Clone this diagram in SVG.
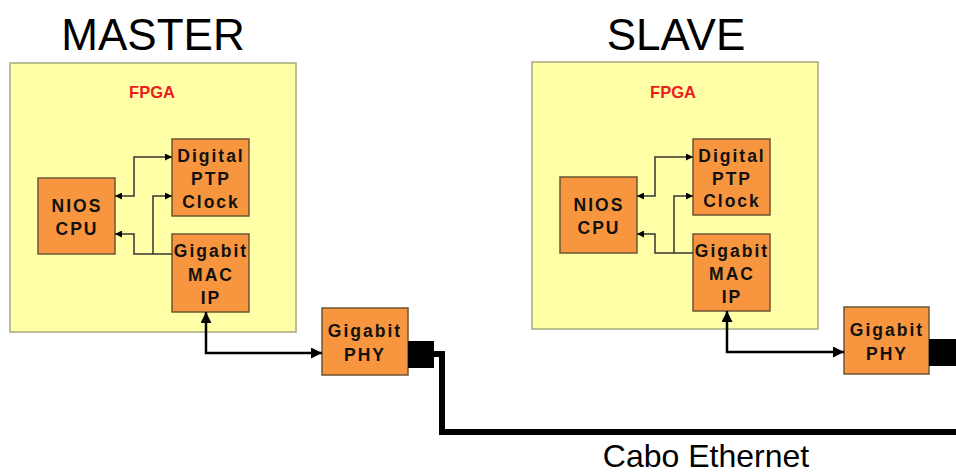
<svg xmlns="http://www.w3.org/2000/svg" width="956" height="475" viewBox="0 0 956 475">
<defs>
<style>
.fpga{fill:#FFFFA8;stroke:#A8A880;stroke-width:1.5}
.blk{fill:#F7963E;stroke:#6E5535;stroke-width:1.5}
.bt{font-family:"Liberation Sans",Arial,sans-serif;font-weight:bold;font-size:17.5px;letter-spacing:2px;fill:#111;text-anchor:middle}
.lbl{font-family:"Liberation Sans",Arial,sans-serif;font-weight:bold;font-size:16.5px;fill:#EE1A1E;text-anchor:middle}
.title{font-family:"Liberation Sans",Arial,sans-serif;font-size:44px;fill:#000;text-anchor:middle}
.thin{fill:none;stroke:#333;stroke-width:1.5}
.thick{fill:none;stroke:#000;stroke-width:2.5}
.cable{fill:none;stroke:#000;stroke-width:6}
</style>
<marker id="ah" viewBox="0 0 10 10" refX="10" refY="5" markerWidth="7" markerHeight="7" markerUnits="userSpaceOnUse" orient="auto-start-reverse"><path d="M0,0L10,5L0,10z" fill="#000"/></marker>
<marker id="ahb" viewBox="0 0 10 10" refX="10" refY="5" markerWidth="11" markerHeight="11" markerUnits="userSpaceOnUse" orient="auto-start-reverse"><path d="M0,0L10,5L0,10z" fill="#000"/></marker>
</defs>
<rect width="956" height="475" fill="#fff"/>
<text class="title" x="153" y="50">MASTER</text>
<text class="title" x="676" y="50">SLAVE</text>

<g id="master-fpga"><rect class="fpga" x="10" y="63" width="286" height="269"/><text class="lbl" x="152" y="98">FPGA</text></g>
<g id="slave-fpga"><rect class="fpga" x="532" y="62" width="286" height="267"/><text class="lbl" x="673" y="98">FPGA</text></g>

<g id="master-nios"><rect class="blk" x="38" y="178" width="77" height="76"/><text class="bt" x="77" y="212">NIOS</text><text class="bt" x="77" y="235">CPU</text></g>
<g id="master-ptp"><rect class="blk" x="172" y="139" width="77" height="77"/><text class="bt" x="211" y="162">Digital</text><text class="bt" x="211" y="185">PTP</text><text class="bt" x="211" y="208">Clock</text></g>
<g id="master-mac"><rect class="blk" x="172" y="234" width="77" height="78"/><text class="bt" x="211" y="257">Gigabit</text><text class="bt" x="211" y="281">MAC</text><text class="bt" x="211" y="304">IP</text></g>
<g id="master-phy"><rect class="blk" x="322" y="308" width="86" height="67"/><text class="bt" x="365" y="337">Gigabit</text><text class="bt" x="365" y="361">PHY</text></g>
<g id="master-port"><rect x="408" y="341" width="26" height="27" fill="#000"/></g>

<g id="slave-nios"><rect class="blk" x="560" y="177" width="77" height="76"/><text class="bt" x="599" y="211">NIOS</text><text class="bt" x="599" y="234">CPU</text></g>
<g id="slave-ptp"><rect class="blk" x="693" y="139" width="77" height="76"/><text class="bt" x="732" y="162">Digital</text><text class="bt" x="732" y="185">PTP</text><text class="bt" x="732" y="207">Clock</text></g>
<g id="slave-mac"><rect class="blk" x="693" y="234" width="77" height="77"/><text class="bt" x="732" y="257">Gigabit</text><text class="bt" x="732" y="280">MAC</text><text class="bt" x="732" y="303">IP</text></g>
<g id="slave-phy"><rect class="blk" x="844" y="307" width="85" height="67"/><text class="bt" x="887" y="336">Gigabit</text><text class="bt" x="887" y="360">PHY</text></g>
<g id="slave-port"><rect x="929" y="339" width="27" height="27" fill="#000"/></g>

<g id="connectors">
<path class="thin" d="M115,196H134V157H172" marker-start="url(#ah)" marker-end="url(#ah)"/>
<path class="thin" d="M172,254H134V234H115" marker-end="url(#ah)"/>
<path class="thin" d="M153,254V196H172" marker-end="url(#ah)"/>
<path class="thick" d="M206,312V353H322" marker-start="url(#ahb)" marker-end="url(#ahb)"/>

<path class="thin" d="M637,196H655V157H693" marker-start="url(#ah)" marker-end="url(#ah)"/>
<path class="thin" d="M693,253H655V234H637" marker-end="url(#ah)"/>
<path class="thin" d="M674,253V196H693" marker-end="url(#ah)"/>
<path class="thick" d="M727,311V352H844" marker-start="url(#ahb)" marker-end="url(#ahb)"/>

<path class="cable" d="M434,354H442V432H956"/>
</g>
<text x="706" y="467" font-family="'Liberation Sans',Arial,sans-serif" font-size="32" text-anchor="middle" fill="#000">Cabo Ethernet</text>
</svg>
